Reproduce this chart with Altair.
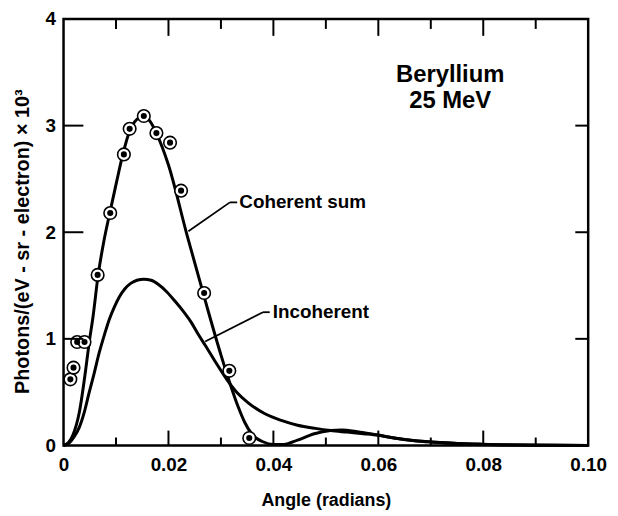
import altair as alt
import pandas as pd

# ---- data ----
coh_x = [0.0, 0.0010, 0.0018, 0.0030, 0.0043, 0.0049, 0.0056, 0.0066, 0.0077, 0.0089,
         0.0101, 0.0113, 0.0126, 0.0140, 0.0153, 0.0165, 0.0177, 0.0188, 0.0200, 0.0235,
         0.0270, 0.0300, 0.0316, 0.0333, 0.0345, 0.0360, 0.0380, 0.0400, 0.0420, 0.0446,
         0.0478, 0.0509, 0.0530, 0.0560, 0.0597, 0.0630, 0.0670, 0.0700, 0.0800, 0.0900, 0.1000]
coh_y = [0.0, 0.03, 0.10, 0.31, 0.74, 0.97, 1.20, 1.60, 1.92, 2.20,
         2.47, 2.73, 2.95, 3.06, 3.09, 3.04, 2.93, 2.80, 2.63, 1.98,
         1.36, 0.85, 0.60, 0.36, 0.22, 0.10, 0.035, 0.01, 0.01, 0.05,
         0.11, 0.14, 0.145, 0.13, 0.10, 0.07, 0.045, 0.033, 0.012, 0.004, 0.0]

inc_x = [0.0, 0.0010, 0.0020, 0.0030, 0.0040, 0.0049, 0.0058, 0.0068, 0.0078, 0.0087,
         0.0097, 0.0106, 0.0117, 0.0128, 0.0140, 0.0153, 0.0167, 0.0181, 0.0197, 0.0213,
         0.0228, 0.0244, 0.0257, 0.0270, 0.0290, 0.0311, 0.0330, 0.0352, 0.0383, 0.0415,
         0.0446, 0.0480, 0.0509, 0.0540, 0.0572, 0.0600, 0.0630, 0.0670, 0.0700, 0.0750,
         0.0800, 0.0900, 0.1000]
inc_y = [0.0, 0.02, 0.08, 0.17, 0.32, 0.50, 0.67, 0.87, 1.04, 1.18,
         1.30, 1.39, 1.47, 1.52, 1.55, 1.56, 1.55, 1.51, 1.44, 1.35,
         1.26, 1.15, 1.04, 0.94, 0.78, 0.62, 0.50, 0.40, 0.30, 0.235,
         0.19, 0.16, 0.14, 0.125, 0.11, 0.095, 0.07, 0.045, 0.033, 0.018,
         0.009, 0.003, 0.0]

meas_x = [0.0013, 0.0019, 0.0026, 0.0040, 0.0065, 0.0089, 0.0115, 0.0126, 0.0153,
          0.0177, 0.0203, 0.0224, 0.0268, 0.0316, 0.0354]
meas_y = [0.62, 0.73, 0.97, 0.97, 1.60, 2.18, 2.73, 2.97, 3.09,
          2.93, 2.84, 2.39, 1.43, 0.70, 0.07]

x_label_values = [0.0, 0.02, 0.04, 0.06, 0.08, 0.10]
y_label_values = [0, 1, 2, 3, 4]
x_ticks_major = [0.02, 0.04, 0.06, 0.08]
x_ticks_minor = [0.01, 0.03, 0.05, 0.07, 0.09]
y_ticks = [1, 2, 3]

leader_x = [0.0317, 0.0317, 0.0380, 0.0380]
leader_y = [2.28, 2.28, 1.25, 1.25]
leader_x2 = [0.0331, 0.0238, 0.0393, 0.0270]
leader_y2 = [2.28, 2.01, 1.25, 0.975]

ann_text = ["Coherent sum", "Incoherent"]
ann_x = [0.0335, 0.0399]
ann_y = [2.28, 1.25]

title_lines = ["Beryllium", "25 MeV"]
title_x = [0.0737, 0.0737]
title_y = [3.47, 3.23]

# ---- chart ----
W, H = 529, 430
FONT = "Liberation Sans"
xs = alt.Scale(domain=[0, 0.1], nice=False, zero=False)
ys = alt.Scale(domain=[0, 4], nice=False, zero=False)

coh = pd.DataFrame({"x": coh_x, "y": coh_y})
inc = pd.DataFrame({"x": inc_x, "y": inc_y})
meas = pd.DataFrame({"x": meas_x, "y": meas_y})
leaders = pd.DataFrame({"x": leader_x, "y": leader_y, "x2": leader_x2, "y2": leader_y2})
ann = pd.DataFrame({"t": ann_text, "x": ann_x, "y": ann_y})
ttl = pd.DataFrame({"t": title_lines, "x": title_x, "y": title_y})

x_axis = alt.Axis(values=x_label_values,
                  labelExpr="datum.value == 0 ? '0' : format(datum.value, '.2f')",
                  ticks=False, domain=False, grid=False,
                  labelFont=FONT, labelFontSize=19, labelFontWeight="bold", labelColor="black",
                  labelPadding=10, labelFlush=False,
                  title="Angle (radians)", titleFont=FONT, titleFontSize=18,
                  titleFontWeight="bold", titleColor="black", titlePadding=18)
y_axis = alt.Axis(values=y_label_values, format="d",
                  ticks=False, domain=False, grid=False,
                  labelFont=FONT, labelFontSize=19, labelFontWeight="bold", labelColor="black",
                  labelPadding=8, labelFlush=False,
                  title="Photons/(eV - sr - electron) × 10³", titleFont=FONT, titleFontSize=20,
                  titleFontWeight="bold", titleColor="black", titlePadding=13, titleY=224)


def X(f="x"):
    return alt.X(f"{f}:Q", scale=xs, axis=x_axis)


def Y(f="y"):
    return alt.Y(f"{f}:Q", scale=ys, axis=y_axis)


coh_line = alt.Chart(coh).mark_line(color="black", strokeWidth=3, interpolate="monotone").encode(
    x=X(), y=Y())
inc_line = alt.Chart(inc).mark_line(color="black", strokeWidth=3, interpolate="monotone").encode(
    x=X(), y=Y())

rings = alt.Chart(meas).mark_circle(fill="white", stroke="black", strokeWidth=1.6,
                                    size=160, opacity=1).encode(x=X(), y=Y())
dots = alt.Chart(meas).mark_circle(color="black", size=38, opacity=1).encode(x=X(), y=Y())

lead = alt.Chart(leaders).mark_rule(color="black", strokeWidth=1.8).encode(
    x=X(), y=Y(), x2="x2:Q", y2="y2:Q")
ann_txt = alt.Chart(ann).mark_text(align="left", baseline="middle", font=FONT, fontSize=19,
                                   fontWeight="bold", color="black").encode(x=X(), y=Y(), text="t:N")
ttl_txt = alt.Chart(ttl).mark_text(align="center", baseline="middle", font=FONT, fontSize=24,
                                   fontWeight="bold", color="black").encode(x=X(), y=Y(), text="t:N")

tm = pd.DataFrame({"t": x_ticks_major})
tn = pd.DataFrame({"t": x_ticks_minor})
ty = pd.DataFrame({"t": y_ticks})
tick_style = dict(color="black", strokeWidth=2)
bot_major = alt.Chart(tm).mark_rule(**tick_style).encode(x=X("t"), y=alt.value(H), y2=alt.value(H - 15))
bot_minor = alt.Chart(tn).mark_rule(**tick_style).encode(x=X("t"), y=alt.value(H), y2=alt.value(H - 8))
top_major = alt.Chart(tm).mark_rule(**tick_style).encode(x=X("t"), y=alt.value(0), y2=alt.value(17))
top_minor = alt.Chart(tn).mark_rule(**tick_style).encode(x=X("t"), y=alt.value(0), y2=alt.value(10))
left_t = alt.Chart(ty).mark_rule(**tick_style).encode(y=Y("t"), x=alt.value(0), x2=alt.value(20))
right_t = alt.Chart(ty).mark_rule(**tick_style).encode(y=Y("t"), x=alt.value(W), x2=alt.value(W - 13))

chart = alt.layer(
    coh_line, inc_line, lead, rings, dots, ann_txt, ttl_txt,
    bot_major, bot_minor, top_major, top_minor, left_t, right_t
).properties(
    width=W, height=H,
    autosize=alt.AutoSizeParams(type="none"),
    padding={"left": 56, "top": 9, "right": 22, "bottom": 66},
    background="white",
).configure_view(stroke="black", strokeWidth=2.5)

chart.save("out.html", embed_options={"renderer": "svg", "actions": False})
